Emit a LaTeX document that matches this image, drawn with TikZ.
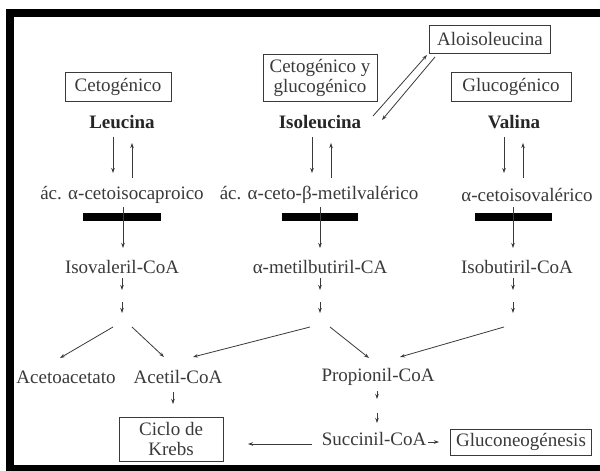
\documentclass[tikz,border=0pt]{standalone}
\usepackage{fontspec}
\setmainfont{Liberation Serif}
\usetikzlibrary{arrows.meta}
\definecolor{ink}{HTML}{3A3A3A}
\begin{document}
\begin{tikzpicture}[x=1pt,y=-1pt,
 txt/.style={font=\fontsize{19}{20}\selectfont, text=ink, inner sep=0pt},
 bold/.style={txt, font=\fontsize{19}{20}\selectfont\bfseries, text=black!85},
 box/.style={txt, draw=ink, line width=1pt, align=center},
 arr/.style={draw=ink, line width=0.8pt, -{Stealth[length=5pt,width=3.5pt]}},
 ln/.style={draw=ink, line width=0.8pt},
 bar/.style={fill=black, minimum height=8pt, inner sep=0pt}]
\useasboundingbox (0,0) rectangle (600,471);
\fill[white] (0,0) rectangle (600,471);
% frame
\fill[black] (6,9) rectangle (600,17);
\fill[black] (6,9) rectangle (14,471);
\fill[black] (6,465) rectangle (600,471);

% boxes
\node[box, minimum width=106pt, minimum height=29pt] (cetog) at (118,87) {Cetogénico};
\node[box, minimum width=114pt, minimum height=47pt] (cyg) at (320,78) {Cetogénico y\\glucogénico};
\node[box, minimum width=121pt, minimum height=28pt] (alo) at (490,39) {Aloisoleucina};
\node[box, minimum width=120pt, minimum height=29pt] (gluc) at (511,87) {Glucogénico};
\node[box, minimum width=104pt, minimum height=44pt] (krebs) at (171,439) {Ciclo de\\Krebs};
\node[box, minimum width=141pt, minimum height=26pt] (gneo) at (521,442) {Gluconeogénesis};

% text nodes
\node[bold] (leu) at (122,122) {Leucina};
\node[bold] (iso) at (320,122) {Isoleucina};
\node[bold] (val) at (514,122) {Valina};
\node[txt] (k1) at (122,195) {ác. α-cetoisocaproico};
\node[txt] (k2) at (319,195) {ác. α-ceto-β-metilvalérico};
\node[txt] (k3) at (527,195) {α-cetoisovalérico};
\node[txt] (c1) at (122,267) {Isovaleril-CoA};
\node[txt] (c2) at (320,267) {α-metilbutiril-CA};
\node[txt] (c3) at (517,267) {Isobutiril-CoA};
\node[txt] (aca) at (66,377) {Acetoacetato};
\node[txt] (acc) at (178,377) {Acetil-CoA};
\node[txt] (pro) at (378,377) {Propionil-CoA};
\node[txt] (suc) at (374,439) {Succinil-CoA};

% bars
\node[bar, minimum width=78pt] (b1) at (122,217) {};
\node[bar, minimum width=76pt] (b2) at (320,217) {};
\node[bar, minimum width=77pt] (b3) at (513.5,217) {};

% reversible arrows amino acid <-> keto acid
\draw[arr] (113,137) -- (113,173);
\draw[arr] (132,178) -- (132,143);
\draw[arr] (312,137) -- (312,173);
\draw[arr] (331,178) -- (331,143);
\draw[arr] (504,137) -- (504,173);
\draw[arr] (523,178) -- (523,143);

% isoleucina <-> aloisoleucina
\draw[arr] (373,116) -- (427,55);
\draw[arr] (435,57) -- (382,120);

% through the bars
\draw[arr] (123,207) -- (123,248);
\draw[arr] (320,207) -- (320,248);
\draw[arr] (513,207) -- (513,248);

% small arrows below CoA esters
\foreach \x in {122,320,513}{
  \draw[arr] (\x,278) -- (\x,290);
  \draw[arr] (\x,302) -- (\x,313);
}

% diagonals
\draw[arr] (113,327) -- (60,358);
\draw[arr] (132,327) -- (164,357);
\draw[arr] (310,327) -- (193,357);
\draw[arr] (330,327) -- (369,358);
\draw[arr] (504,327) -- (400,357);

% lower part
\draw[arr] (173,392) -- (173,404);
\draw[arr] (377,391) -- (377,399);
\draw[arr] (377,413) -- (377,423);
\draw[arr] (312,444) -- (248,444);
\draw[arr] (428,442) -- (439,442);
\end{tikzpicture}
\end{document}
